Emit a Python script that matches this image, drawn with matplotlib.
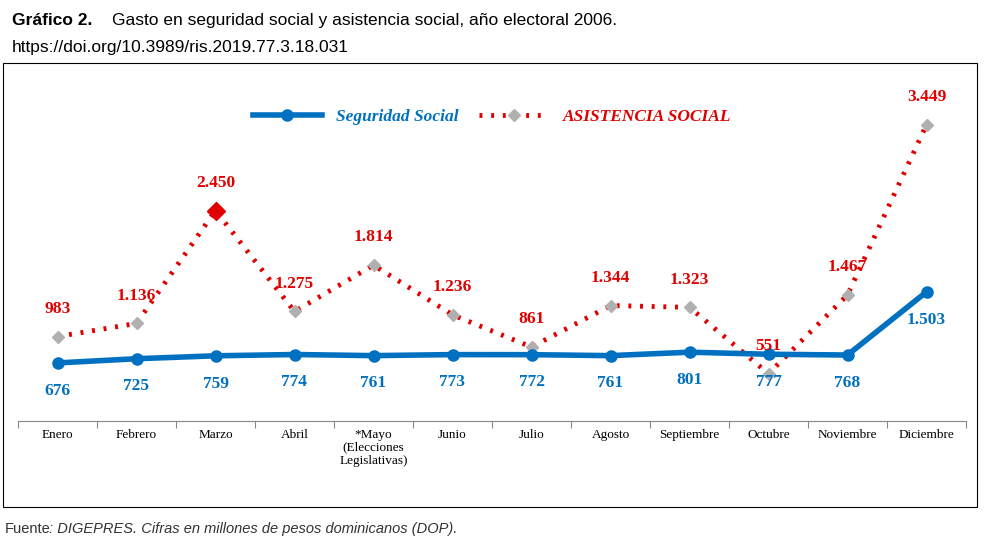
import numpy as np
import matplotlib
matplotlib.use('Agg')
from matplotlib import pyplot as plt
from matplotlib.patches import Rectangle

meses = ['Enero', 'Febrero', 'Marzo', 'Abril', '*Mayo\n(Elecciones\nLegislativas)', 'Junio',
         'Julio', 'Agosto', 'Septiembre', 'Octubre', 'Noviembre', 'Diciembre']
seguridad = [676, 725, 759, 774, 761, 773, 772, 761, 801, 777, 768, 1503]
asistencia = [983, 1136, 2450, 1275, 1814, 1236, 861, 1344, 1323, 551, 1467, 3449]

def fmt(v):
    return '{:,}'.format(v).replace(',', '.')

blue = '#0070C0'
red = '#E00000'
serif = 'Liberation Serif'

fig = plt.figure(figsize=(9.86, 5.39), dpi=100)
fig.text(0.012, 0.975, 'Gráfico 2.', fontsize=12.5, va='top', family='Liberation Sans', fontweight='bold')
fig.text(0.114, 0.975, 'Gasto en seguridad social y asistencia social, año electoral 2006.',
         fontsize=12.5, va='top', family='Liberation Sans')
fig.text(0.012, 0.925, 'https://doi.org/10.3989/ris.2019.77.3.18.031', fontsize=12.5, va='top',
         family='Liberation Sans')
fig.text(0.005, 0.012, 'Fuente', fontsize=10.5, family='Liberation Sans', color='#333333')
fig.text(0.050, 0.012, ': DIGEPRES. Cifras en millones de pesos dominicanos (DOP).', fontsize=10.5,
         family='Liberation Sans', style='italic', color='#333333')
fig.patches.append(Rectangle((3/986, 1-507/539), 974/986, 444/539, transform=fig.transFigure,
                             fill=False, edgecolor='black', linewidth=0.8))

ax = fig.add_axes([18/986, 1-421/539, 948/986, 351/539])
x = np.arange(len(meses))
ax.plot(x, seguridad, color=blue, linewidth=4, marker='o', markersize=8, label='Seguridad Social', zorder=3)
ax.plot(x, asistencia, color=red, linewidth=3.5, linestyle=(0, (0.6, 1.8)), marker='D', markersize=6.5,
        markerfacecolor='#B0B0B0', markeredgecolor='#B0B0B0', label='ASISTENCIA SOCIAL', zorder=2)
ax.plot(x[2], asistencia[2], marker='D', markersize=9, color=red, zorder=4)
for xi, s, a in zip(x, seguridad, asistencia):
    ax.annotate(fmt(s), (xi, s), xytext=(0, -20), textcoords='offset points', ha='center', va='center',
                color=blue, fontsize=12.5, fontweight='bold', family=serif)
    ax.annotate(fmt(a), (xi, a), xytext=(0, 20), textcoords='offset points', ha='center', va='center',
                color=red, fontsize=12.5, fontweight='bold', family=serif)
for xi, m in zip(x, meses):
    ax.text(xi, -90, m, ha='center', va='top', fontsize=9.5, family=serif, linespacing=1.1)

ax.set_xlim(-0.5, 11.5)
ax.set_ylim(0, 4086)
ax.set_xticks(np.arange(-0.5, 12, 1))
ax.set_xticklabels([])
ax.tick_params(axis='x', length=5, color='#888888')
ax.set_yticks([])
for sp in ['top', 'left', 'right']:
    ax.spines[sp].set_visible(False)
ax.spines['bottom'].set_color('#888888')

leg = ax.legend(loc='upper center', bbox_to_anchor=(0.5, 0.935), ncol=2, frameon=False, handlelength=4,
                prop={'family': serif, 'size': 12.5, 'style': 'italic', 'weight': 'bold'}, columnspacing=1.2)
for t, c in zip(leg.get_texts(), [blue, red]):
    t.set_color(c)

plt.savefig('out.png', dpi=100)
